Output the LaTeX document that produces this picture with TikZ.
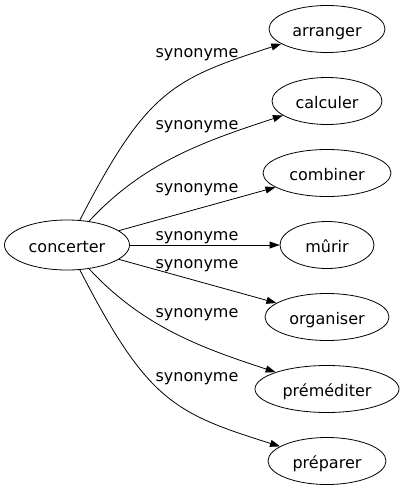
\documentclass[tikz,border=0pt]{standalone}
\usepackage{fontspec}
\setmainfont{DejaVu Sans}
\usetikzlibrary{arrows.meta,shapes.geometric}
\begin{document}
\begin{tikzpicture}[x=1pt,y=-1pt,
  every node/.style={font=\fontsize{16}{19}\selectfont},
  wnode/.style={draw,ellipse,inner sep=0pt,line width=0.8pt,minimum height=47pt,text height=14pt,text depth=0pt},
  syn/.style={anchor=base,inner sep=0pt},
  edge/.style={line width=0.8pt,-{Triangle[length=10pt,width=7pt]}}]
\useasboundingbox (0,0) rectangle (405,491);
\node[wnode,minimum width=125pt,minimum height=50pt] (c) at (67,245) {concerter};
\node[wnode,minimum width=116pt] (n1) at (327,29) {arranger};
\node[wnode,minimum width=110pt] (n2) at (327,101) {calculer};
\node[wnode,minimum width=128pt] (n3) at (327,173) {combiner};
\node[wnode,minimum width=94pt] (n4) at (327,245) {mûrir};
\node[wnode,minimum width=124pt] (n5) at (327,317) {organiser};
\node[wnode,minimum width=144pt] (n6) at (327,389) {préméditer};
\node[wnode,minimum width=118pt] (n7) at (327,461) {préparer};
\draw[edge] (c) .. controls (147,90) and (173,79) .. (n1);
\draw[edge] (c) .. controls (143,163) and (202,142) .. (n2);
\draw[edge] (c) -- (n3);
\draw[edge] (c) -- (n4);
\draw[edge] (c) -- (n5);
\draw[edge] (c) .. controls (143,327) and (202,348) .. (n6);
\draw[edge] (c) .. controls (147,400) and (173,413) .. (n7);
\node[syn] (l1) at (197,57) {synonyme};
\node[syn] (l2) at (197,129) {synonyme};
\node[syn] (l3) at (197,192) {synonyme};
\node[syn] (l4) at (197,240) {synonyme};
\node[syn] (l5) at (197,268) {synonyme};
\node[syn] (l6) at (197,317) {synonyme};
\node[syn] (l7) at (197,381) {synonyme};
\end{tikzpicture}
\end{document}
